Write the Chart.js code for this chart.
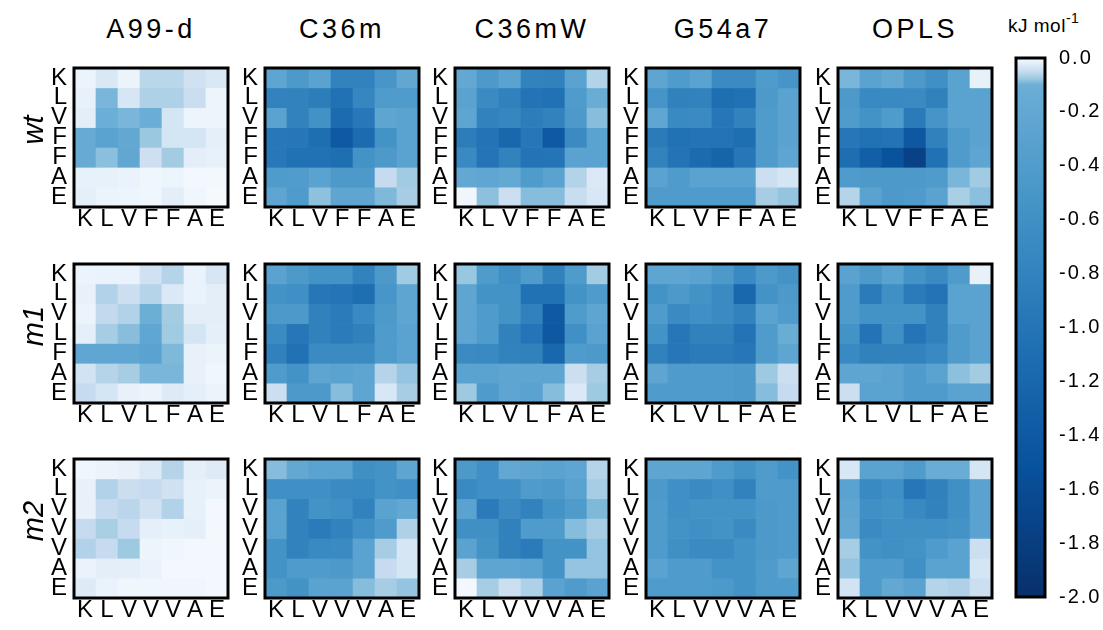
<!DOCTYPE html>
<html>
<head>
<meta charset="utf-8">
<script src="https://cdn.jsdelivr.net/npm/chart.js@4.4.0/dist/chart.umd.min.js"></script>
<style>
  body { margin: 0; background: #fff; width: 1103px; height: 630px; position: relative; overflow: hidden;
         font-family: "Liberation Sans", Arial, sans-serif; color: #000; }
  canvas { position: absolute; }
  .title { position: absolute; top: 13px; width: 200px; text-align: center; font-size: 27px; letter-spacing: 3.5px; line-height: 32px; }
  .rowlab { position: absolute; width: 100px; height: 34px; line-height: 34px; text-align: center;
            font-size: 29px; font-style: italic; transform: rotate(-90deg); }
  .unit { position: absolute; left: 1008px; top: 12px; font-size: 19px; letter-spacing: 0.5px; }
  .unit sup { font-size: 14px; position: relative; top: -2px; }
</style>
</head>
<body>
<div class="unit">kJ mol<sup>-1</sup></div>
<script>
// panel titles, rows, residue sequences
const models = ['A99-d', 'C36m', 'C36mW', 'G54a7', 'OPLS'];
const variants = ['wt', 'm1', 'm2'];
const seqWt = ['K', 'L', 'V', 'F', 'F', 'A', 'E'];
const seqM1 = ['K', 'L', 'V', 'L', 'F', 'A', 'E'];
const seqM2 = ['K', 'L', 'V', 'V', 'V', 'A', 'E'];
const cbTicks = [0, -0.2, -0.4, -0.6, -0.8, -1.0, -1.2, -1.4, -1.6, -1.8, -2.0];

// contact energies (kJ/mol), rows top->bottom, cols left->right
const wtA99d = [
  [-0.012, -0.03, -0.012, -0.058, -0.058, -0.04, -0.03],
  [-0.015, -0.093, -0.033, -0.065, -0.065, -0.045, -0.01],
  [-0.02, -0.1, -0.093, -0.11, -0.035, -0.01, -0.01],
  [-0.15, -0.3, -0.2, -0.077, -0.035, -0.035, -0.018],
  [-0.15, -0.085, -0.22, -0.043, -0.072, -0.02, -0.015],
  [-0.016, -0.016, -0.013, -0.008, -0.01, -0.005, -0.005],
  [-0.018, -0.012, -0.01, -0.008, -0.02, -0.008, -0.003]
];
const wtC36m = [
  [-0.25, -0.45, -0.3, -0.8, -0.8, -0.5, -0.22],
  [-0.8, -0.8, -0.88, -1.05, -0.75, -0.42, -0.42],
  [-0.3, -0.8, -0.58, -1.15, -0.95, -0.25, -0.3],
  [-0.95, -0.96, -1.1, -1.4, -1.15, -0.55, -0.3],
  [-0.95, -1.05, -1.05, -1.1, -0.55, -0.45, -0.3],
  [-0.42, -0.4, -0.3, -0.45, -0.45, -0.05, -0.074],
  [-0.25, -0.42, -0.083, -0.25, -0.25, -0.09, -0.07]
];
const wtC36mW = [
  [-0.2, -0.45, -0.3, -0.8, -0.82, -0.3, -0.062],
  [-0.3, -0.68, -0.82, -1.02, -1.05, -0.42, -0.12],
  [-0.25, -0.8, -0.75, -0.88, -0.8, -0.45, -0.086],
  [-0.88, -1.02, -1.2, -0.96, -1.4, -0.68, -0.3],
  [-0.7, -1.0, -0.8, -1.02, -1.0, -0.3, -0.3],
  [-0.2, -0.23, -0.18, -0.42, -0.3, -0.062, -0.028],
  [-0.008, -0.084, -0.044, -0.087, -0.087, -0.047, -0.032]
];
const wtG54a7 = [
  [-0.25, -0.42, -0.3, -0.68, -0.68, -0.42, -0.52],
  [-0.52, -0.82, -0.8, -1.1, -1.05, -0.45, -0.3],
  [-0.23, -0.7, -0.68, -0.96, -0.8, -0.42, -0.3],
  [-0.9, -1.05, -1.02, -1.02, -1.1, -0.42, -0.3],
  [-0.8, -1.02, -1.15, -1.25, -0.96, -0.42, -0.25],
  [-0.3, -0.42, -0.3, -0.3, -0.3, -0.044, -0.035],
  [-0.42, -0.42, -0.42, -0.42, -0.42, -0.07, -0.08]
];
const wtOPLS = [
  [-0.093, -0.3, -0.2, -0.45, -0.6, -0.3, -0.016],
  [-0.45, -0.7, -0.7, -0.68, -0.82, -0.3, -0.3],
  [-0.42, -0.55, -0.42, -0.9, -0.52, -0.3, -0.3],
  [-0.96, -1.05, -1.02, -1.42, -0.82, -0.42, -0.3],
  [-1.1, -1.32, -1.5, -1.75, -1.05, -0.42, -0.25],
  [-0.42, -0.45, -0.45, -0.45, -0.42, -0.093, -0.074],
  [-0.06, -0.3, -0.45, -0.42, -0.3, -0.068, -0.085]
];
const m1A99d = [
  [-0.012, -0.013, -0.013, -0.04, -0.06, -0.013, -0.033],
  [-0.015, -0.063, -0.044, -0.06, -0.028, -0.013, -0.02],
  [-0.012, -0.052, -0.063, -0.1, -0.072, -0.02, -0.02],
  [-0.018, -0.07, -0.086, -0.23, -0.074, -0.035, -0.018],
  [-0.23, -0.23, -0.23, -0.3, -0.09, -0.015, -0.012],
  [-0.038, -0.06, -0.07, -0.093, -0.093, -0.015, -0.008],
  [-0.05, -0.035, -0.015, -0.012, -0.025, -0.018, -0.012]
];
const m1C36m = [
  [-0.3, -0.45, -0.55, -0.55, -0.8, -0.45, -0.074],
  [-0.55, -0.6, -0.96, -1.0, -1.1, -0.5, -0.25],
  [-0.45, -0.45, -0.82, -0.9, -0.7, -0.45, -0.25],
  [-0.68, -0.96, -0.82, -0.9, -0.82, -0.42, -0.3],
  [-0.82, -1.05, -0.68, -0.68, -0.68, -0.42, -0.3],
  [-0.42, -0.55, -0.25, -0.3, -0.25, -0.06, -0.08],
  [-0.044, -0.45, -0.45, -0.087, -0.25, -0.032, -0.07]
];
const m1C36mW = [
  [-0.078, -0.42, -0.6, -0.42, -0.82, -0.42, -0.072],
  [-0.25, -0.55, -0.55, -1.05, -1.05, -0.55, -0.42],
  [-0.25, -0.42, -0.55, -0.82, -1.4, -0.42, -0.25],
  [-0.25, -0.42, -0.82, -1.0, -1.42, -0.6, -0.3],
  [-0.68, -0.7, -0.8, -0.82, -1.2, -0.42, -0.45],
  [-0.3, -0.3, -0.25, -0.25, -0.25, -0.044, -0.07],
  [-0.075, -0.42, -0.25, -0.3, -0.087, -0.028, -0.075]
];
const m1G54a7 = [
  [-0.25, -0.25, -0.3, -0.45, -0.7, -0.45, -0.55],
  [-0.55, -0.45, -0.55, -0.68, -1.2, -0.55, -0.45],
  [-0.42, -0.68, -0.6, -0.68, -0.8, -0.3, -0.42],
  [-0.55, -0.96, -0.82, -0.82, -1.02, -0.42, -0.12],
  [-0.82, -0.96, -0.9, -0.9, -0.96, -0.42, -0.25],
  [-0.25, -0.42, -0.42, -0.42, -0.45, -0.075, -0.044],
  [-0.42, -0.42, -0.42, -0.42, -0.45, -0.087, -0.05]
];
const m1OPLS = [
  [-0.3, -0.45, -0.3, -0.55, -0.68, -0.42, -0.015],
  [-0.42, -0.9, -0.6, -0.9, -1.02, -0.3, -0.3],
  [-0.42, -0.55, -0.55, -0.55, -0.82, -0.3, -0.3],
  [-0.55, -1.02, -0.6, -1.0, -0.82, -0.42, -0.3],
  [-0.7, -0.82, -0.8, -0.8, -0.7, -0.42, -0.3],
  [-0.25, -0.25, -0.3, -0.42, -0.3, -0.084, -0.072],
  [-0.044, -0.3, -0.3, -0.42, -0.42, -0.3, -0.3]
];
const m2A99d = [
  [-0.008, -0.012, -0.015, -0.028, -0.06, -0.018, -0.025],
  [-0.015, -0.063, -0.046, -0.05, -0.04, -0.016, -0.012],
  [-0.015, -0.05, -0.057, -0.04, -0.063, -0.016, -0.005],
  [-0.05, -0.068, -0.05, -0.018, -0.016, -0.018, -0.005],
  [-0.063, -0.05, -0.075, -0.01, -0.008, -0.005, -0.005],
  [-0.013, -0.02, -0.018, -0.013, -0.005, -0.005, -0.005],
  [-0.025, -0.013, -0.008, -0.008, -0.008, -0.008, -0.005]
];
const m2C36m = [
  [-0.087, -0.2, -0.3, -0.3, -0.6, -0.55, -0.25],
  [-0.6, -0.6, -0.6, -0.68, -0.7, -0.55, -0.6],
  [-0.3, -0.8, -0.55, -0.6, -0.8, -0.3, -0.2],
  [-0.3, -0.8, -0.9, -0.8, -0.6, -0.42, -0.065],
  [-0.55, -0.8, -0.7, -0.68, -0.3, -0.07, -0.033],
  [-0.55, -0.42, -0.42, -0.45, -0.3, -0.05, -0.035],
  [-0.45, -0.55, -0.3, -0.3, -0.087, -0.07, -0.08]
];
const m2C36mW = [
  [-0.45, -0.6, -0.2, -0.25, -0.3, -0.25, -0.06],
  [-0.7, -0.6, -0.6, -0.42, -0.45, -0.3, -0.07],
  [-0.3, -0.9, -0.68, -0.8, -0.55, -0.42, -0.09],
  [-0.6, -0.6, -0.82, -0.42, -0.42, -0.087, -0.07],
  [-0.3, -0.55, -0.82, -0.9, -0.55, -0.55, -0.08],
  [-0.07, -0.25, -0.25, -0.3, -0.55, -0.08, -0.08],
  [-0.005, -0.07, -0.044, -0.065, -0.3, -0.42, -0.3]
];
const m2G54a7 = [
  [-0.25, -0.25, -0.25, -0.42, -0.55, -0.42, -0.55],
  [-0.45, -0.6, -0.68, -0.6, -0.8, -0.42, -0.42],
  [-0.42, -0.6, -0.55, -0.55, -0.55, -0.45, -0.42],
  [-0.42, -0.55, -0.6, -0.55, -0.68, -0.45, -0.42],
  [-0.42, -0.6, -0.68, -0.68, -0.55, -0.45, -0.42],
  [-0.3, -0.42, -0.42, -0.55, -0.55, -0.42, -0.25],
  [-0.42, -0.42, -0.42, -0.45, -0.55, -0.42, -0.42]
];
const m2OPLS = [
  [-0.032, -0.3, -0.3, -0.42, -0.12, -0.12, -0.035],
  [-0.3, -0.7, -0.6, -0.96, -0.82, -0.6, -0.3],
  [-0.25, -0.6, -0.55, -0.7, -0.8, -0.6, -0.3],
  [-0.2, -0.68, -0.6, -0.6, -0.6, -0.55, -0.3],
  [-0.07, -0.55, -0.6, -0.55, -0.42, -0.3, -0.044],
  [-0.08, -0.42, -0.42, -0.6, -0.3, -0.3, -0.035],
  [-0.038, -0.42, -0.2, -0.3, -0.06, -0.065, -0.044]
];

const grids = [
  [wtA99d, wtC36m, wtC36mW, wtG54a7, wtOPLS],
  [m1A99d, m1C36m, m1C36mW, m1G54a7, m1OPLS],
  [m2A99d, m2C36m, m2C36mW, m2G54a7, m2OPLS]
];
const seqs = [seqWt, seqM1, seqM2];

// colour scale: Blues, squeezed near zero
const cmap = [[0, '#f7fbff'], [-0.025, '#deebf7'], [-0.05, '#c6dbef'], [-0.075, '#9ecae1'],
  [-0.1, '#6baed6'], [-0.575, '#4292c6'], [-1.05, '#2171b5'], [-1.525, '#08519c'], [-2, '#08306b']];

function hex2rgb(h) {
  return [1, 3, 5].map(i => parseInt(h.substr(i, 2), 16));
}
function colorOf(v) {
  v = Math.max(-2, Math.min(0, v));
  for (let i = 1; i < cmap.length; i++) {
    const [v0, c0] = cmap[i - 1], [v1, c1] = cmap[i];
    if (v >= v1) {
      const t = (v0 - v) / (v0 - v1);
      const a = hex2rgb(c0), b = hex2rgb(c1);
      return 'rgb(' + a.map((x, k) => Math.round(x + (b[k] - x) * t)).join(',') + ')';
    }
  }
  return cmap[cmap.length - 1][1];
}

const frame = {
  id: 'frame',
  afterDraw(chart) {
    const { ctx, chartArea: a } = chart;
    ctx.save();
    ctx.lineWidth = 3;
    ctx.strokeStyle = '#000';
    ctx.strokeRect(a.left, a.top, a.width, a.height);
    ctx.restore();
  }
};

const colLeft = [74, 265, 455, 646, 838];
const rowTop = [53, 249, 444];
const box = 154;

function addCanvas(left, top, w, h) {
  const cv = document.createElement('canvas');
  cv.width = w; cv.height = h;
  cv.style.left = left + 'px'; cv.style.top = top + 'px';
  document.body.appendChild(cv);
  return cv;
}

function heatmap(grid, labels, left, top) {
  const cv = addCanvas(left - 32, top - 4, box + 32 + 4, box + 4 + 32);
  new Chart(cv, {
    type: 'bar',
    data: {
      labels: labels,
      datasets: grid.map((row, r) => ({
        data: row.map(() => [r, r + 1]),
        backgroundColor: row.map(colorOf),
        borderWidth: 0,
        barPercentage: 1,
        categoryPercentage: 1,
        grouped: false
      }))
    },
    options: {
      responsive: false,
      animation: false,
      layout: { padding: { top: 4, right: 4, left: 0, bottom: 0 } },
      plugins: { legend: { display: false }, tooltip: { enabled: false } },
      scales: {
        x: {
          grid: { display: false, drawTicks: false }, border: { display: false },
          ticks: { color: '#000', font: { size: 24, family: 'Liberation Sans' }, padding: -2, maxRotation: 0, autoSkip: false },
          afterFit: s => { s.height = 32; }
        },
        y: {
          min: 0, max: 7, reverse: true,
          grid: { display: false, drawTicks: false }, border: { display: false },
          afterBuildTicks: s => { s.ticks = labels.map((_, i) => ({ value: i + 0.5 })); },
          ticks: { color: '#000', font: { size: 24, family: 'Liberation Sans', lineHeight: 1 }, padding: 7,
                   autoSkip: false, callback: (v, i) => labels[i] },
          afterFit: s => { s.width = 32; }
        }
      }
    },
    plugins: [frame]
  });
}

variants.forEach((vname, r) => {
  models.forEach((m, c) => heatmap(grids[r][c], seqs[r], colLeft[c], rowTop[r]));
  const d = document.createElement('div');
  d.className = 'rowlab';
  d.textContent = vname;
  d.style.left = (33 - 50) + 'px';
  d.style.top = (rowTop[r] + box / 2 - 17) + 'px';
  document.body.appendChild(d);
});
models.forEach((m, c) => {
  const d = document.createElement('div');
  d.className = 'title';
  d.textContent = m;
  d.style.left = (colLeft[c] + box / 2 - 100) + 'px';
  document.body.appendChild(d);
});

// colour bar
const cbCanvas = addCanvas(1000, 40, 103, 575);
new Chart(cbCanvas, {
  type: 'bar',
  data: {
    labels: ['kJ mol-1'],
    datasets: [{
      data: [[cbTicks[cbTicks.length - 1], cbTicks[0]]],
      backgroundColor: ctx => {
        const { chart } = ctx;
        const a = chart.chartArea;
        if (!a) return '#4292c6';
        const ys = chart.scales.y;
        const g = chart.ctx.createLinearGradient(0, ys.getPixelForValue(0), 0, ys.getPixelForValue(-2));
        cmap.forEach(([v, c]) => g.addColorStop(-v / 2, c));
        return g;
      },
      borderWidth: 0,
      barPercentage: 1,
      categoryPercentage: 1
    }]
  },
  options: {
    responsive: false,
    animation: false,
    layout: { padding: { top: 15, bottom: 15, left: 16, right: 0 } },
    plugins: { legend: { display: false }, tooltip: { enabled: false } },
    scales: {
      x: { display: false },
      y: {
        position: 'right', min: -2, max: 0,
        grid: { display: false }, border: { display: false },
        afterBuildTicks: s => { s.ticks = cbTicks.map(v => ({ value: v })); },
        ticks: { color: '#000', font: { size: 20, family: 'Liberation Sans' }, padding: 6,
                 callback: v => v.toFixed(1) },
        afterFit: s => { s.width = 58; }
      }
    }
  },
  plugins: [frame, { id: 'spacing', beforeDraw(chart) { chart.ctx.letterSpacing = '2px'; } }]
});
</script>
</body>
</html>
